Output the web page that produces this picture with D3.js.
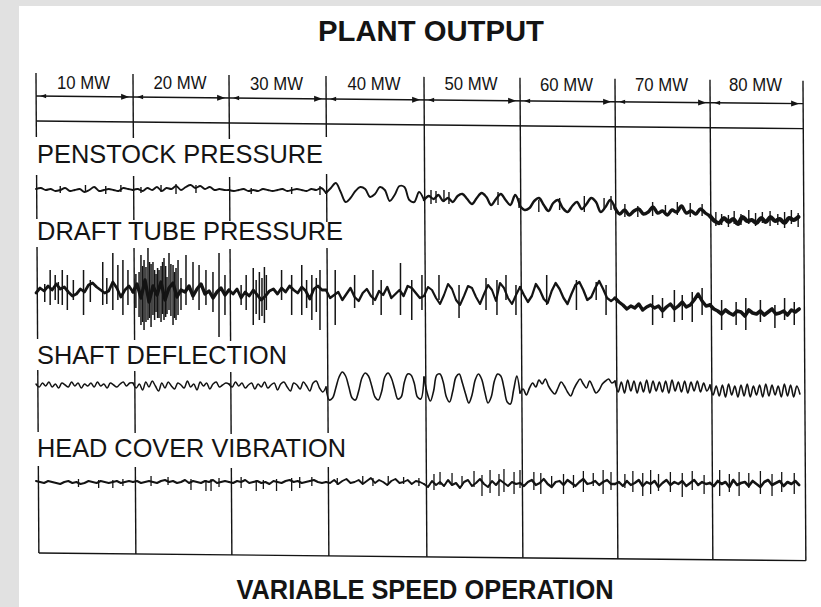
<!DOCTYPE html>
<html>
<head>
<meta charset="utf-8">
<script src="https://cdn.jsdelivr.net/npm/d3@7"></script>
<style>
  body { margin: 0; background: #e1e1e1; }
  svg { display: block; }
  text { font-family: "Liberation Sans", Arial, sans-serif; fill: #141414; }
</style>
</head>
<body>
<div id="chart"></div>
<script>
// Plant output columns (MW)
var outputLabels = ["10 MW", "20 MW", "30 MW", "40 MW", "50 MW", "60 MW", "70 MW", "80 MW"];
var outputSteps = [0, 10, 20, 30, 40, 50, 60, 70, 80];
var traceNames = ["PENSTOCK PRESSURE", "DRAFT TUBE PRESSURE", "SHAFT DEFLECTION", "HEAD COVER VIBRATION"];

// signal readings, one row per output step (relative units, + is up)
var penstock = [
  [1, 2, 0, 1, -1, 0, 2, -1, 0, 1, -2, 0, 3, -1, 0, 1, 0, -1, 2, 1],
  [0, 1, -1, 2, 0, 3, -1, 2, 1, 4, 0, 3, 5, 2, 4, 1, 3, 0, 1, 0],
  [0, -1, 0, 1, -1, 0, -1, 1, 0, -1, 0, 1, -1, 0, 1, 0, -1, 1, 0, 2],
  [-3, 2, 7, -2, -12, -8, -1, 3, 1, -7, -4, 3, 0, -11, -5, 4, 3, -10, -12, -2],
  [-10, -6, -9, -5, -11, -8, -12, -6, -4, -9, -14, -8, -3, -7, -15, -9, -4, -10, -15, -5],
  [-16, -20, -18, -11, -8, -15, -21, -13, -10, -18, -22, -16, -12, -19, -14, -8, -12, -22, -17, -10],
  [-18, -24, -20, -25, -21, -19, -24, -22, -17, -23, -21, -25, -20, -22, -16, -23, -21, -24, -19, -23],
  [-26, -31, -33, -28, -32, -29, -34, -27, -31, -30, -33, -28, -32, -27, -31, -29, -33, -28, -30, -27]
];
// [MW, top, bottom]
var penstockSpikes = [
  [2.5, 4, -3], [5.1, 5, -2], [7.19, 4, -4], [8.75, 5, -2],
  [10.83, 3, -3], [12.92, 5, -2], [14.48, 6, -4], [16.56, 5, -3],
  [22.29, 2, -4], [26.46, 3, -4], [29.38, 4, -5],
  [40.73, 0, -14], [41.25, -1, -13], [42.08, 0, -12], [42.6, -2, -14], [47.71, -2, -15], [49.9, -8, -18],
  [51.98, -10, -22], [54.17, -8, -20], [56.77, -6, -22], [58.85, -8, -20], [59.58, -6, -20],
  [61.04, -14, -27], [62.4, -16, -27], [63.96, -12, -26], [65.31, -15, -25], [66.56, -12, -25], [67.92, -13, -27], [69.17, -14, -26],
  [70.63, -22, -36], [71.25, -24, -35], [71.98, -25, -37], [72.6, -21, -34], [73.33, -24, -35], [74.17, -20, -34],
  [74.9, -23, -36], [75.63, -22, -33], [76.46, -21, -36], [77.29, -24, -35], [78.02, -22, -38], [78.75, -20, -34], [79.48, -23, -37]
];

var draftTube = [
  [-1, 4, 1, 6, 2, 8, 3, 5, 0, -4, -2, 3, 0, 7, 9, 5, 2, -1, 1, 10, 4, -5, 2, 6],
  [0, 8, -6, 12, -10, 6, -3, 10, -8, 4, 9, -5, 2, 0, 6, -4, 3, 8, -2, 1, -6, 0, 4, -3],
  [2, -2, 3, -6, 0, -4, 2, -3, -8, -4, 1, 3, -2, 4, 0, 6, 2, -1, 5, 1, -7, 3, 6, 2],
  [2, -6, -3, 0, -8, -2, 4, -5, -9, -1, 3, -4, -8, 1, -3, 5, -6, -2, 2, -4, 6, 4, -1, -6],
  [-4, 5, 2, -6, -12, -3, 8, 3, -8, -13, -4, 6, 4, -5, -12, -2, 7, 2, -9, 9, 4, -6, -12, -3],
  [5, -3, -10, -4, 8, 2, -7, -11, 1, 9, 3, -6, -12, -2, 7, 10, 2, -8, -5, 4, 11, 3, -6, -9],
  [-6, -10, -13, -17, -14, -16, -12, -18, -15, -13, -16, -14, -19, -15, -12, -17, -14, -10, -15, -13, -8, -2, -9, -14],
  [-13, -17, -19, -22, -18, -21, -23, -19, -20, -24, -18, -21, -22, -19, -23, -20, -17, -22, -21, -19, -23, -18, -20, -17]
];
var draftTubeSpikes = [
  [0.9, 8, -10], [1.46, 22, -13], [1.98, 17, -8], [2.3, 10, -12], [2.71, 22, -13], [3.23, 17, -18], [3.85, 12, -8], [4.9, 22, -23],
  [5.6, 12, -10], [6.88, 30, -13], [7.3, 14, -12], [7.92, 39, -18], [8.44, 27, -8], [8.96, 32, -23], [9.48, 22, -13],
  [10.3, 18, -16], [10.63, 20, -25], [10.83, 37, -33], [11.0, 26, -30], [11.15, 32, -38], [11.35, 25, -30], [11.56, 44, -28],
  [11.72, 30, -26], [11.88, 28, -35], [12.08, 30, -23], [12.25, 22, -28], [12.4, 18, -20], [12.56, 24, -26], [12.71, 22, -26],
  [12.92, 26, -30], [13.08, 30, -22], [13.23, 34, -28], [13.4, 26, -25], [13.54, 15, -22], [13.75, 39, -18], [13.95, 28, -24],
  [14.17, 27, -33], [14.33, 20, -26], [14.48, 24, -28], [14.69, 32, -23], [15.0, 14, -18], [15.52, 37, -13],
  [16.25, 30, -8], [16.88, 27, -18], [17.6, 22, -13], [18.33, 20, -20], [18.96, 39, -45], [19.58, 17, -23],
  [21.25, 7, -13], [21.77, 17, -18], [22.5, 24, -33], [22.8, 12, -22], [23.13, 20, -28], [23.4, 14, -24], [23.65, 25, -31], [23.85, 17, -18],
  [25.42, 22, -8], [26.46, 17, -23], [27.5, 27, -23], [28.0, 12, -16], [28.54, 17, -28], [29.0, 14, -20], [29.38, 22, -38],
  [30.94, 22, -33], [32.92, 17, -16], [34.79, 22, -13], [35.63, 12, -23], [37.6, 29, -23], [38.75, 12, -28], [39.79, 17, -18],
  [41.56, 17, -8], [43.65, 7, -26], [46.46, 14, -18], [47.6, 12, -23], [48.54, 17, -8], [49.58, 7, -23],
  [52.81, 17, -13], [55.94, 12, -18], [58.02, 10, -8], [59.06, 7, -23],
  [63.96, -3, -33], [65.0, -6, -26], [66.25, 2, -30], [67.08, -3, -28], [68.13, 0, -30], [69.17, 4, -23],
  [71.25, -8, -38], [72.81, -10, -33], [73.85, -6, -38], [75.42, -8, -30], [76.98, -13, -36], [78.02, -6, -28], [79.06, -10, -33]
];

var shaft = [
  [1, -2, 2, -1, 3, -2, 1, -3, 2, 0, -2, 3, -1, 2, -3, 1, -1, 2, -2, 3, -1, 1, -3, 2, 0, -2, 1, 3, -1, 2],
  [2, -3, 1, -5, 3, -2, 4, -1, -6, 2, -3, 3, -1, -4, 2, 0, -3, 4, -2, 1, -5, 3, -1, 2, -4, 1, 3, -2, 0, 2],
  [1, -2, 3, -1, 2, -3, 0, 2, -4, 1, -2, 3, -3, 0, 2, -5, 1, 3, -2, -6, 2, 0, -4, 3, -1, -6, 2, 4, -3, -7],
  [-2, -15, -13, -3, 8, 13, 9, -2, -13, -15, -6, 7, 12, 9, -1, -12, -15, -7, 8, 12, 7, -4, -14, -12, 3, 11, 10, 2, -12, -14],
  [8, -8, -16, -6, 10, 11, 3, -12, -17, -6, 8, 11, 2, -9, -18, -10, 5, 11, 6, -7, -18, -12, 4, 11, 9, -3, -17, -19, -5, 9],
  [-8, -4, -10, -3, 2, -2, 5, 1, 6, -1, -6, -9, -3, 3, -1, -7, -11, -4, 2, 6, 1, -3, 4, -2, -8, -5, 1, 4, 6, 2],
  [4, -7, 3, -8, 5, -6, 4, -8, 3, -7, 5, -8, 4, -6, 3, -7, 4, -8, 5, -6, 3, -7, 4, -8, 3, -6, 4, -7, 2, -6],
  [0, -10, -1, -11, 0, -12, 1, -10, -1, -12, 0, -11, 1, -12, -1, -10, 0, -12, 1, -11, 0, -10, -1, -12, 1, -11, 0, -12, -1, -9]
];

var headCover = [
  [1, 0, -1, 1, 0, -1, -2, 0, 1, -1, 0, -2, -1, 1, 0, -1, 1, 0, -1, 0, 1, -1, 0, 1],
  [0, 1, -1, 0, 1, 0, -1, 1, 2, 0, 1, -1, 0, 2, -1, 1, 0, -1, 1, 0, 2, -1, 0, 1],
  [0, -1, 1, 0, 2, -1, 0, 1, -1, 0, -2, 1, 0, -1, 1, 2, 0, 1, -1, 0, 1, 2, 0, -1],
  [0, -1, 2, -2, 1, 3, -1, 0, 2, -2, 1, 4, -1, 2, 0, -3, 1, 3, -1, 0, 2, -2, 1, 0],
  [-2, -5, 1, -3, 0, -4, 2, -3, -1, -6, 0, 2, -4, -1, 3, -2, -5, 1, -3, 2, -1, -4, 0, -2],
  [-1, -4, 0, 2, -3, -1, 3, -2, -5, 0, 1, -3, 2, -1, -4, 0, 3, -2, -1, 1, -3, 0, 2, -2],
  [-2, 0, -4, 1, -3, -1, 2, -4, 0, -2, 1, -5, -1, 2, -3, 0, -2, 1, -4, -1, 2, -3, 0, -2],
  [-1, -4, 1, -2, 0, -5, 2, -3, -1, 0, -4, 1, -2, -5, 0, 2, -3, -1, 1, -4, 0, -2, 1, -3]
];
var headCoverSpikes = [
  [4.38, 3, -5], [6.46, 2, -6], [7.92, 2, -6], [8.96, 3, -4],
  [11.88, 6, -4], [13.65, 5, -3], [16.04, 3, -8], [17.6, 2, -9], [18.13, 3, -9], [18.96, 4, -5],
  [21.25, 5, -6], [22.81, 2, -9], [23.54, 2, -7], [24.9, 3, -9], [26.46, 4, -9], [27.29, 5, -6], [28.54, 5, -4],
  [31.15, 4, -3], [33.75, 6, -2], [34.79, 4, -4], [36.35, 6, -3], [37.92, 5, -2], [39.48, 4, -4],
  [41.04, 8, -8], [41.67, 10, -3], [42.92, 9, -2], [43.96, 6, -4], [45.21, 11, -5], [46.04, 7, -14],
  [46.88, 12, -11], [47.81, 8, -14], [48.33, 13, -10], [49.38, 10, -12], [50.0, 12, -6],
  [51.46, 10, -8], [52.19, 9, -12], [53.33, 6, -4], [54.58, 8, -12], [55.63, 7, -6], [56.67, 11, -10],
  [57.71, 9, -4], [58.75, 12, -12], [59.58, 10, -8],
  [61.04, 8, -6], [61.88, 11, -10], [62.92, 9, -14], [63.75, 12, -12], [64.58, 8, -9], [65.83, 10, -10],
  [67.08, 9, -15], [68.13, 11, -8], [69.38, 7, -12],
  [71.04, 12, -14], [72.08, 8, -10], [73.13, 10, -14], [74.17, 9, -6], [75.42, 11, -12], [76.67, 8, -14],
  [77.71, 10, -10], [79.06, 9, -12]
];

var svgWidth = 821;
var svgHeight = 607;

var svg = d3.select("#chart")
  .append("svg")
  .attr("width", svgWidth)
  .attr("height", svgHeight);

svg.append("rect")
  .attr("width", svgWidth)
  .attr("height", svgHeight)
  .attr("fill", "#e1e1e1");

svg.append("rect")
  .attr("x", 19)
  .attr("y", 6)
  .attr("width", svgWidth - 19)
  .attr("height", svgHeight - 6)
  .attr("fill", "#ffffff");

var ink = "#141414";

// MW scale across the recorder strip (paper divisions are a little uneven)
var xScale = d3.scaleLinear()
  .domain(outputSteps)
  .range([36, 133, 229, 326, 424, 520, 615, 710, 803]);

// one band per trace
var bandCenters = [190, 292, 385, 482];
var yScales = bandCenters.map(function(c) {
  return d3.scaleLinear().domain([-50, 50]).range([c + 50, c - 50]);
});

// ink weight per output step, per trace
var penstockWidths = [1.9, 1.9, 1.9, 1.9, 2.3, 2.5, 3.4, 4.2];
var draftTubeWidths = [2.8, 3.4, 2.8, 2.4, 2.1, 2.3, 3.4, 3.6];
var shaftWidths = [1.5, 1.5, 1.5, 1.6, 1.6, 1.6, 1.6, 1.6];
var headCoverWidths = [2, 2.1, 2.1, 1.9, 2.1, 2.3, 2.4, 2.6];

// ----- grid (the scan is slightly sheared) -----
var grid = svg.append("g")
  .attr("transform", "matrix(1, 0.01, 0.006, 1, -0.456, -0.36)")
  .attr("stroke", ink)
  .attr("stroke-width", 1.4)
  .attr("fill", "none");

var arrowY = 96;
var secondY = 121;
var bottomY = 553;

[arrowY, secondY, bottomY].forEach(function(y) {
  grid.append("line")
    .attr("x1", xScale(0)).attr("x2", xScale(80))
    .attr("y1", y).attr("y2", y);
});

// vertical boundaries, broken where trace labels sit on the left
var leftSegs = [[73, 137], [175, 219], [247, 339], [370, 432], [466, bottomY]];
var midSegs = [[73, 134], [171, 219], [245, 430], [464, bottomY]];
var fullSegs = [[73, bottomY]];

outputSteps.forEach(function(mw, i) {
  var segs = i < 3 ? leftSegs : (i === 3 ? midSegs : fullSegs);
  segs.forEach(function(s) {
    grid.append("line")
      .attr("x1", xScale(mw)).attr("x2", xScale(mw))
      .attr("y1", s[0]).attr("y2", s[1]);
  });
});

// arrow heads on the output line
outputSteps.slice(1).forEach(function(mw) {
  var tip = xScale(mw) - 4;
  grid.append("path")
    .attr("d", "M" + tip + "," + arrowY + "L" + (tip - 8) + "," + (arrowY - 3) + "L" + (tip - 8) + "," + (arrowY + 3) + "Z")
    .attr("fill", ink)
    .attr("stroke", "none");
});
outputSteps.slice(0, 8).forEach(function(mw) {
  var s = xScale(mw) + 4;
  grid.append("path")
    .attr("d", "M" + s + "," + arrowY + "L" + (s + 6) + "," + (arrowY - 2.2) + "L" + (s + 6) + "," + (arrowY + 2.2) + "Z")
    .attr("fill", ink)
    .attr("stroke", "none");
});

// ----- text -----
svg.append("text")
  .attr("x", 431)
  .attr("y", 41)
  .attr("text-anchor", "middle")
  .attr("font-size", 29)
  .attr("font-weight", "bold")
  .attr("textLength", 226)
  .attr("lengthAdjust", "spacingAndGlyphs")
  .text("PLANT OUTPUT");

svg.append("g")
  .selectAll("text")
  .data(outputLabels)
  .enter()
  .append("text")
  .attr("x", function(d, i) { return xScale(outputSteps[i] + 5) - 1; })
  .attr("y", function(d, i) { return 89 + i * 0.3; })
  .attr("text-anchor", "middle")
  .attr("font-size", 18)
  .attr("textLength", 53)
  .attr("lengthAdjust", "spacingAndGlyphs")
  .text(function(d) { return d; });

var nameBaselines = [163, 240, 364, 457];
var nameWidths = [286, 306, 250, 309];
svg.append("g")
  .selectAll("text")
  .data(traceNames)
  .enter()
  .append("text")
  .attr("x", 37)
  .attr("y", function(d, i) { return nameBaselines[i]; })
  .attr("font-size", 25)
  .attr("textLength", function(d, i) { return nameWidths[i]; })
  .attr("lengthAdjust", "spacingAndGlyphs")
  .text(function(d) { return d; });

svg.append("text")
  .attr("x", 425)
  .attr("y", 599)
  .attr("text-anchor", "middle")
  .attr("font-size", 27)
  .attr("font-weight", "bold")
  .attr("textLength", 377)
  .attr("lengthAdjust", "spacingAndGlyphs")
  .text("VARIABLE SPEED OPERATION");

// ----- traces -----
// one path per output step, joined to the first reading of the next step
function stepPoints(rows, c) {
  var row = rows[c];
  var pts = row.map(function(v, k) {
    return { mw: outputSteps[c] + k * 10 / row.length, v: v };
  });
  if (c < rows.length - 1) {
    pts.push({ mw: outputSteps[c + 1], v: rows[c + 1][0] });
  }
  return pts;
}

function drawTrace(rows, spikes, band, curve, widths, spikeWidth) {
  var y = yScales[band];
  var line = d3.line()
    .x(function(d) { return xScale(d.mw); })
    .y(function(d) { return y(d.v); })
    .curve(curve);

  var g = svg.append("g");

  rows.forEach(function(row, c) {
    g.append("path")
      .datum(stepPoints(rows, c))
      .attr("d", line)
      .attr("fill", "none")
      .attr("stroke", ink)
      .attr("stroke-width", widths[c])
      .attr("stroke-linejoin", "round")
      .attr("stroke-linecap", "round");
  });

  if (spikes) {
    g.selectAll("line")
      .data(spikes)
      .enter()
      .append("line")
      .attr("x1", function(d) { return xScale(d[0]); })
      .attr("x2", function(d) { return xScale(d[0]); })
      .attr("y1", function(d) { return y(d[1]); })
      .attr("y2", function(d) { return y(d[2]); })
      .attr("stroke", ink)
      .attr("stroke-width", spikeWidth);
  }
}

drawTrace(penstock, penstockSpikes, 0, d3.curveCatmullRom, penstockWidths, 1.4);
drawTrace(draftTube, draftTubeSpikes, 1, d3.curveLinear, draftTubeWidths, 1.5);
drawTrace(shaft, null, 2, d3.curveCatmullRom, shaftWidths, 1);
drawTrace(headCover, headCoverSpikes, 3, d3.curveLinear, headCoverWidths, 1.3);
</script>
</body>
</html>
